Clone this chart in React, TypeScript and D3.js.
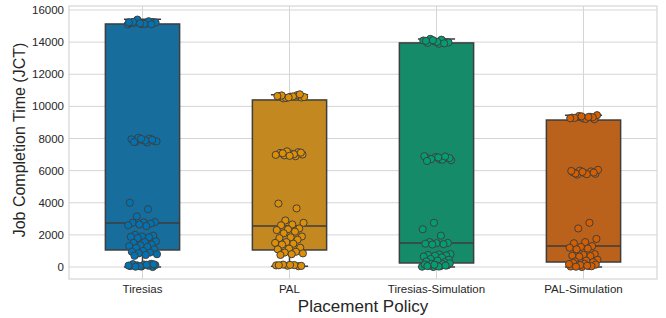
import { useEffect, useRef } from "react";
import * as d3 from "d3";

const categories = ["Tiresias", "PAL", "Tiresias-Simulation", "PAL-Simulation"];
const yTicks = [0, 2000, 4000, 6000, 8000, 10000, 12000, 14000, 16000];

// box summaries
const q1 = [1060, 1060, 250, 310];
const medians = [2740, 2550, 1490, 1300];
const q3 = [15130, 10400, 13950, 9150];
const whiskerLow = [0, 50, 0, 0];
const whiskerHigh = [15420, 10720, 14200, 9450];

// individual jobs (strip points)
const tiresiasJct = [
  15100, 15150, 15200, 15250, 15120, 15180, 15300, 15400, 15220, 15140, 15260, 15110, 15170, 15230,
  7750, 7800, 7850, 7900, 7950, 8000, 8050, 7820, 7870, 7780, 7920, 7980,
  4000, 3600, 3150, 2800, 2780, 2750, 2700, 2650, 2600, 2550, 2000, 1950, 1900, 1880, 1850, 1800,
  1600, 1550, 1500, 1400, 1350, 1300, 1250, 1200, 1100, 1000, 950, 900, 850, 800, 750, 700,
  0, 30, 60, 80, 100, 120, 150, 180, 200, 50, 90, 140, 20, 170,
];
const palJct = [
  10500, 10550, 10600, 10650, 10700, 10520, 10580, 10620, 10680, 10750, 10560, 10640,
  6900, 6950, 7000, 7050, 7100, 7150, 7200, 6980, 7020, 7080, 7120, 6920,
  3950, 3650, 2900, 2750, 2650, 2600, 2400, 2350, 2300, 2200, 2100, 1900, 1850, 1800, 1700,
  1550, 1500, 1450, 1400, 1200, 1150, 1100, 950, 900, 850, 800, 750,
  50, 80, 100, 120, 150, 70, 130, 110,
];
const tiresiasSimJct = [
  13900, 13950, 14000, 14050, 14100, 14150, 14200, 13980, 14020, 14080, 13920, 14120,
  6650, 6700, 6750, 6800, 6850, 6900, 6680, 6720, 6780, 6820, 6600, 6880,
  2750, 2350, 1950, 1550, 1500, 1480, 1450, 1420, 1400, 800, 780, 750, 720, 700, 650, 600,
  500, 450, 400, 350, 300,
  0, 20, 50, 80, 100, 120, 150, 180, 200, 230, 30, 60, 90, 140,
];
const palSimJct = [
  9200, 9250, 9300, 9350, 9400, 9450, 9220, 9280, 9320, 9380, 9260, 9340,
  5750, 5800, 5850, 5900, 5950, 6000, 6050, 5780, 5820, 5880, 5920, 5980,
  2750, 2400, 1750, 1550, 1480, 1300, 1250, 1200, 1150, 1100, 800, 750, 700, 680, 650,
  450, 400, 350, 300,
  0, 30, 60, 100, 150, 200, 250, 50, 120, 180, 80, 20,
];
const points = [tiresiasJct, palJct, tiresiasSimJct, palSimJct];

const boxColors = ["#176d9c", "#c38820", "#158b6a", "#ba611b"];
const dotColors = ["#0173b2", "#de8f05", "#029e73", "#d55e00"];

export default function App() {
  const svgRef = useRef<SVGSVGElement | null>(null);

  useEffect(() => {
    if (!svgRef.current) return;
    const svg = d3.select(svgRef.current);
    svg.selectAll("*").remove();

    const W = 666;
    const H = 318;
    const margin = { top: 6, right: 9, bottom: 39, left: 69 };
    const font = "'Liberation Sans', Arial, sans-serif";
    const textColor = "#262626";
    const gridColor = "#d5d5d5";

    const x = d3
      .scaleBand<string>()
      .domain(categories)
      .range([margin.left, W - margin.right]);
    const y = d3
      .scaleLinear()
      .domain([-747, 16249])
      .range([H - margin.bottom, margin.top]);

    const bw = x.bandwidth();
    const boxW = bw * 0.505;

    // grid
    svg
      .append("g")
      .selectAll("line")
      .data(yTicks)
      .join("line")
      .attr("x1", margin.left)
      .attr("x2", W - margin.right)
      .attr("y1", (d) => y(d))
      .attr("y2", (d) => y(d))
      .attr("stroke", gridColor)
      .attr("stroke-width", 1);
    svg
      .append("g")
      .selectAll("line")
      .data(categories)
      .join("line")
      .attr("x1", (d) => x(d)! + bw / 2)
      .attr("x2", (d) => x(d)! + bw / 2)
      .attr("y1", margin.top)
      .attr("y2", H - margin.bottom)
      .attr("stroke", gridColor)
      .attr("stroke-width", 1);

    // spines
    svg
      .append("rect")
      .attr("x", margin.left)
      .attr("y", margin.top)
      .attr("width", W - margin.left - margin.right)
      .attr("height", H - margin.top - margin.bottom)
      .attr("fill", "none")
      .attr("stroke", gridColor)
      .attr("stroke-width", 1.2);

    // y tick labels
    svg
      .append("g")
      .selectAll("text")
      .data(yTicks)
      .join("text")
      .attr("x", margin.left - 5)
      .attr("y", (d) => y(d))
      .attr("dy", "0.35em")
      .attr("text-anchor", "end")
      .attr("font-family", font)
      .attr("font-size", 11.5)
      .attr("fill", textColor)
      .text((d) => d);

    // x tick labels
    svg
      .append("g")
      .selectAll("text")
      .data(categories)
      .join("text")
      .attr("x", (d) => x(d)! + bw / 2)
      .attr("y", H - margin.bottom + 14)
      .attr("text-anchor", "middle")
      .attr("font-family", font)
      .attr("font-size", 11.5)
      .attr("fill", textColor)
      .text((d) => d);

    // axis titles
    svg
      .append("text")
      .attr("x", (margin.left + W - margin.right) / 2)
      .attr("y", H - 6)
      .attr("text-anchor", "middle")
      .attr("font-family", font)
      .attr("font-size", 17)
      .attr("fill", textColor)
      .text("Placement Policy");
    svg
      .append("text")
      .attr("transform", `translate(25,140) rotate(-90)`)
      .attr("text-anchor", "middle")
      .attr("font-family", font)
      .attr("font-size", 16)
      .attr("fill", textColor)
      .text("Job Completion Time (JCT)");

    const edge = "#3d3d3d";

    categories.forEach((c, i) => {
      const cx = x(c)! + bw / 2;
      const g = svg.append("g");

      // whiskers
      g.append("line")
        .attr("x1", cx)
        .attr("x2", cx)
        .attr("y1", y(whiskerHigh[i]))
        .attr("y2", y(q3[i]))
        .attr("stroke", edge)
        .attr("stroke-width", 1.5);
      g.append("line")
        .attr("x1", cx)
        .attr("x2", cx)
        .attr("y1", y(q1[i]))
        .attr("y2", y(whiskerLow[i]))
        .attr("stroke", edge)
        .attr("stroke-width", 1.5);
      [whiskerHigh[i], whiskerLow[i]].forEach((v) => {
        g.append("line")
          .attr("x1", cx - boxW / 4)
          .attr("x2", cx + boxW / 4)
          .attr("y1", y(v))
          .attr("y2", y(v))
          .attr("stroke", edge)
          .attr("stroke-width", 1.5);
      });

      // box
      g.append("rect")
        .attr("x", cx - boxW / 2)
        .attr("y", y(q3[i]))
        .attr("width", boxW)
        .attr("height", y(q1[i]) - y(q3[i]))
        .attr("fill", boxColors[i])
        .attr("stroke", edge)
        .attr("stroke-width", 1.5);
      g.append("line")
        .attr("x1", cx - boxW / 2)
        .attr("x2", cx + boxW / 2)
        .attr("y1", y(medians[i]))
        .attr("y2", y(medians[i]))
        .attr("stroke", edge)
        .attr("stroke-width", 1.5);
    });

    // strip points with a fixed, deterministic jitter
    const jitter = bw * 0.1;
    categories.forEach((c, i) => {
      const cx = x(c)! + bw / 2;
      svg
        .append("g")
        .selectAll("circle")
        .data(points[i])
        .join("circle")
        .attr("cx", (_, j) => cx + ((((j * 0.618034 + i * 0.29) % 1) * 2 - 1) * jitter))
        .attr("cy", (d) => y(d))
        .attr("r", 3.6)
        .attr("fill", dotColors[i])
        .attr("stroke", "#404040")
        .attr("stroke-width", 1);
    });
  }, []);

  return (
    <div style={{ position: "absolute", left: 0, top: 0, width: 666, height: 318, background: "#fff" }}>
      <svg ref={svgRef} width={666} height={318}></svg>
    </div>
  );
}
